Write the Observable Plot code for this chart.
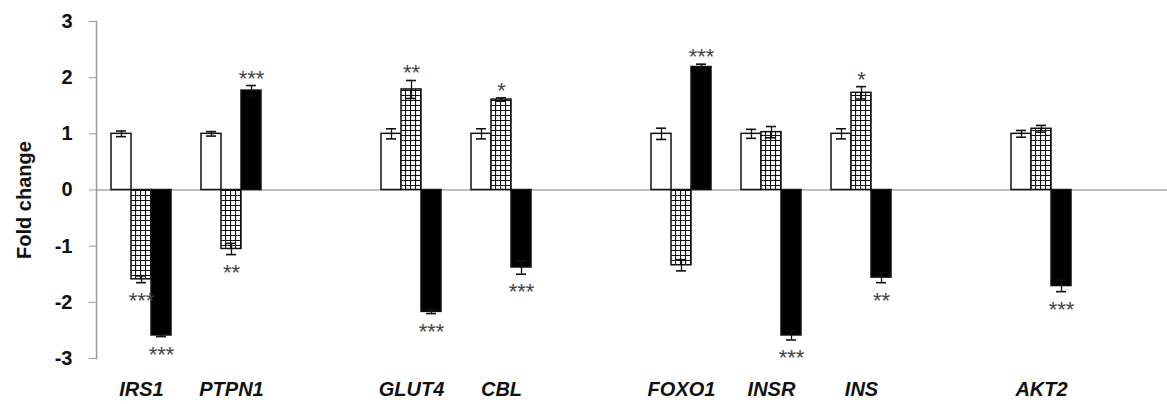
<!DOCTYPE html>
<html><head><meta charset="utf-8">
<script src="https://cdn.jsdelivr.net/npm/d3@7"></script>
<script src="https://cdn.jsdelivr.net/npm/@observablehq/plot@0.6"></script>
<style>
html,body{margin:0;padding:0;background:#fff;}
#chart svg{display:block;}
</style>
</head><body><div id="chart"></div>
<script>
const genes = ["IRS1","PTPN1","GLUT4","CBL","FOXO1","INSR","INS","AKT2"];
const slots = ["IRS1","PTPN1","gap1","GLUT4","CBL","gap2","FOXO1","INSR","INS","gap3","AKT2","gap4"];
const series = ["Control","Group 2","Group 3"];
const controlValues = [1,1,1,1,1,1,1,1];
const controlErrors = [0.05,0.04,0.09,0.09,0.1,0.08,0.09,0.06];
const group2Values = [-1.59,-1.05,1.79,1.61,-1.34,1.03,1.73,1.09];
const group2Errors = [0.06,0.1,0.16,0.03,0.1,0.1,0.11,0.06];
const group3Values = [-2.59,1.77,-2.17,-1.38,2.19,-2.59,-1.56,-1.71];
const group3Errors = [0.02,0.09,0.03,0.12,0.05,0.08,0.09,0.1];
const group2Stars = ["***","**","**","*","","","*",""];
const group3Stars = ["***","***","***","***","***","***","**","***"];
const yTicks = [-3,-2,-1,0,1,2,3];
const baseline = [0];

const rows = [];
genes.forEach((g, i) => {
  [[controlValues, controlErrors, null], [group2Values, group2Errors, group2Stars], [group3Values, group3Errors, group3Stars]]
    .forEach(([v, e, s], k) => {
      rows.push({gene: g, series: series[k], value: v[i], err: e[i], stars: s ? s[i] : ""});
    });
});
const starsUp = rows.filter(d => d.stars && d.value > 0);
const starsDown = rows.filter(d => d.stars && d.value < 0);
const baselineRows = slots.map(s => ({slot: s, y: baseline[0]}));

const chart = Plot.plot({
  width: 1167, height: 404,
  marginLeft: 96, marginRight: 0, marginTop: 21, marginBottom: 46,
  style: {fontFamily: "'Liberation Sans', Arial, sans-serif", background: "white", color: "#111"},
  fx: {domain: slots, range: [96, 1176], padding: 0},
  x: {domain: series, paddingInner: 0, paddingOuter: 0.75, axis: null},
  y: {domain: [-3, 3]},
  color: {domain: series, range: ["white", "url(#grid)", "black"]},
  marks: [
    Plot.ruleY(baselineRows, {fx: "slot", y: "y", stroke: "#aaa", strokeWidth: 1.5}),
    Plot.frame({anchor: "left", stroke: "#999", strokeWidth: 1.5, facetAnchor: "left"}),
    Plot.axisY({ticks: yTicks, tickFormat: d => String(d), tickSize: 7, tickPadding: 17, fontSize: 20, fontWeight: "bold",
      stroke: "#999", fill: "#111", label: null, facetAnchor: "left"}),
    Plot.axisFx({anchor: "bottom", tickSize: 0, tickPadding: 23, fontSize: 20, fontWeight: "bold", fontStyle: "italic", fill: "#111", label: null,
      tickFormat: d => genes.includes(d) ? d : ""}),
    Plot.text(["Fold change"], {frameAnchor: "left", textAnchor: "middle", rotate: -90, dx: -72, dy: 10, fontSize: 20, fontWeight: "bold", fill: "#111", facet: "super"}),
    Plot.barY(rows, {fx: "gene", x: "series", y: "value", fill: "series", stroke: "#111", strokeWidth: 1.5}),
    Plot.ruleX(rows, {fx: "gene", x: "series", y1: d => d.value - d.err, y2: d => d.value + d.err, stroke: "#111", strokeWidth: 1.3}),
    Plot.tickY(rows, {fx: "gene", x: "series", y: d => d.value + d.err, insetLeft: 5, insetRight: 5, stroke: "#111", strokeWidth: 1.6}),
    Plot.tickY(rows, {fx: "gene", x: "series", y: d => d.value - d.err, insetLeft: 5, insetRight: 5, stroke: "#111", strokeWidth: 1.6}),
    Plot.text(starsUp, {fx: "gene", x: "series", y: d => d.value + d.err, text: "stars", lineAnchor: "bottom", dy: 0, fontSize: 22, fill: "#444"}),
    Plot.text(starsDown, {fx: "gene", x: "series", y: d => d.value - d.err, text: "stars", lineAnchor: "bottom", dy: 25, fontSize: 22, fill: "#444"})
  ]
});

const svg = chart.tagName.toLowerCase() === "svg" ? chart : chart.querySelector("svg");
const defs = d3.select(svg).insert("defs", ":first-child");
const pat = defs.append("pattern").attr("id", "grid").attr("width", 5).attr("height", 5).attr("patternUnits", "userSpaceOnUse");
pat.append("rect").attr("width", 5).attr("height", 5).attr("fill", "white");
pat.append("path").attr("d", "M0 0.5H5M0.5 0V5").attr("stroke", "#111").attr("stroke-width", 1.2);
document.getElementById("chart").appendChild(chart);
</script>
</body></html>
